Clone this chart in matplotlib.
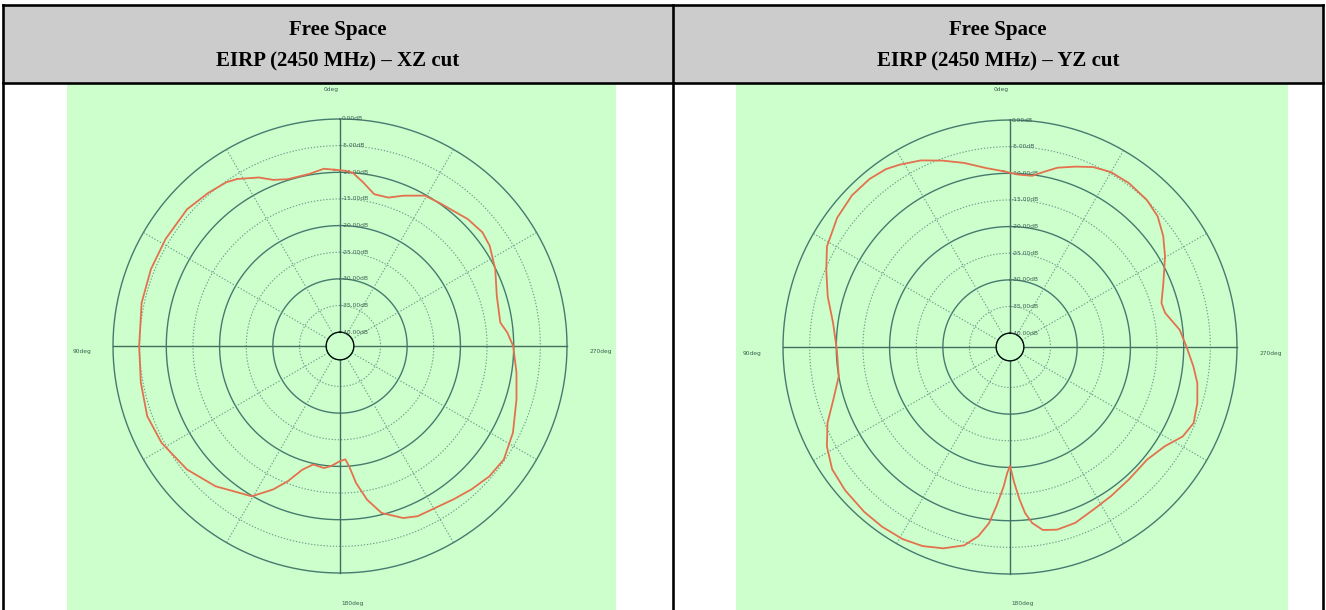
import numpy as np
import matplotlib
matplotlib.use("Agg")
import matplotlib.pyplot as plt
from matplotlib.patches import Rectangle
from matplotlib.transforms import offset_copy

# ---------------- data ----------------
title_line1 = ["Free Space", "Free Space"]
title_line2 = ["EIRP (2450 MHz) \u2013 XZ cut", "EIRP (2450 MHz) \u2013 YZ cut"]

ring_db = [0, -5, -10, -15, -20, -25, -30, -35, -40]
ring_labels = ["0.00dB", "-5.00dB", "-10.00dB", "-15.00dB", "-20.00dB",
               "-25.00dB", "-30.00dB", "-35.00dB", "-40.00dB"]
spoke_deg = [0, 30, 60, 90, 120, 150, 180, 210, 240, 270, 300, 330]
angle_labels = ["0deg", "90deg", "180deg", "270deg"]

xz_theta = [1.8, 5.2, 10.1, 17.4, 21.9, 25.7, 31.6, 34.7, 40.6, 48.2, 58.5, 67.9,
            77.7, 90.0, 100.4, 110.0, 118.5, 128.9, 138.4, 149.6, 155.0, 158.9,
            163.0, 167.2, 172.5, 175.7, 180.0, 182.7, 184.3, 186.7, 190.0, 194.0,
            200.2, 204.5, 209.3, 216.5, 222.5, 228.9, 235.3, 243.4, 253.2, 261.4,
            270.0, 274.6, 278.3, 287.8, 296.3, 303.8, 308.6, 314.8, 320.0, 325.3,
            330.6, 337.2, 341.9, 347.3, 351.9, 355.8, 358.2, 361.8]
xz_db = [-9.5, -9.2, -9.8, -9.8, -9.0, -7.5, -5.8, -5.2, -4.7, -4.1, -4.2, -4.3,
         -4.5, -4.9, -4.6, -4.1, -4.5, -5.7, -7.4, -9.9, -12.9, -15.4,
         -18.3, -19.8, -19.5, -20.0, -21.0, -21.3, -20.0, -16.7, -13.3, -10.3,
         -8.2, -7.5, -7.4, -6.8, -6.1, -5.4, -5.2, -6.3, -8.0, -9.1,
         -10.1, -11.1, -12.2, -11.7, -10.1, -8.8, -8.4, -8.8, -9.5, -9.9,
         -10.2, -12.0, -13.3, -13.4, -11.6, -10.0, -9.7, -9.5]

yz_theta = [2.1, 7.7, 14.0, 19.9, 25.5, 31.2, 34.9, 39.9, 46.2, 53.2, 61.2, 67.2,
            74.5, 82.3, 90.9, 99.7, 106.6, 112.6, 118.5, 124.5, 131.0, 138.5,
            144.6, 150.8, 156.3, 161.7, 167.0, 170.5, 173.2, 175.1, 177.4, 178.7,
            180.0, 181.8, 183.6, 185.2, 187.2, 190.2, 194.5, 200.4, 207.1, 214.1,
            221.9, 230.6, 237.3, 242.6, 247.5, 253.3, 259.1, 264.0, 270.2, 275.8,
            282.4, 286.2, 292.7, 300.3, 305.9, 311.5, 317.1, 324.0, 330.0, 335.2,
            340.1, 345.2, 349.3, 352.6, 357.4, 362.1]
yz_db = [-9.6, -8.7, -7.0, -5.4, -3.8, -2.6, -1.9, -1.5, -1.5, -2.1, -3.4, -5.2,
         -7.1, -9.1, -10.1, -10.0, -8.0, -5.5, -3.5, -2.1, -1.6, -1.3,
         -1.2, -1.3, -1.8, -2.8, -4.4, -6.6, -9.3, -12.6, -16.4, -18.9,
         -20.3, -17.1, -13.9, -11.3, -9.3, -7.7, -7.2, -7.4, -8.3, -8.8,
         -9.2, -9.3, -8.1, -6.1, -5.3, -5.9, -6.8, -8.0, -9.5, -10.6,
         -12.8, -13.0, -11.4, -8.9, -7.1, -5.6, -4.9, -4.6, -4.7, -5.4,
         -6.6, -7.8, -9.2, -10.2, -10.2, -9.6]

# ---------------- layout ----------------
W, H, DPI = 1326, 610, 100
fig = plt.figure(figsize=(W / DPI, H / DPI), dpi=DPI)
fig.patch.set_facecolor("white")

bg = fig.add_axes([0, 0, 1, 1])
bg.set_xlim(0, W)
bg.set_ylim(H, 0)
bg.axis("off")

GREEN = "#ccffcc"
GRAY = "#cccccc"
LINE_PX = 2.6
lw_pt = LINE_PX * 72 / DPI

top_y, head_y = 5, 83
left_x, mid_x, right_x = 3, 673, 1323

bg.add_patch(Rectangle((left_x, top_y), right_x - left_x, head_y - top_y,
                       fc=GRAY, ec="none", zorder=0))
panels = [(67, 616), (736, 1288)]
for x0, x1 in panels:
    bg.add_patch(Rectangle((x0, head_y), x1 - x0, H - head_y, fc=GREEN, ec="none", zorder=0))

for (xa, ya, xb, yb) in [(left_x, top_y, right_x, top_y), (left_x, head_y, right_x, head_y),
                         (left_x, top_y, left_x, H + 5), (right_x, top_y, right_x, H + 5),
                         (mid_x, top_y, mid_x, H + 5)]:
    bg.plot([xa, xb], [ya, yb], color="black", lw=lw_pt, solid_capstyle="projecting", zorder=5)

cell_centers = [(left_x + mid_x) / 2, (mid_x + right_x) / 2]
for i, cx in enumerate(cell_centers):
    bg.text(cx, 30, title_line1[i], ha="center", va="center", fontsize=15,
            fontweight="bold", family=["Liberation Serif", "DejaVu Serif"], zorder=6)
    bg.text(cx, 61, title_line2[i], ha="center", va="center", fontsize=15,
            fontweight="bold", family=["Liberation Serif", "DejaVu Serif"], zorder=6)

SOLID = "#467a6e"
DOT = "#6c9c8e"
AXIS = "#476c60"
LBL = "#3e5f52"
CURVE = "#e4714e"


def polar_panel(cx, cy, theta_deg, db):
    R = 227
    ax = fig.add_axes([(cx - R) / W, 1 - (cy + R) / H, 2 * R / W, 2 * R / H],
                      projection="polar")
    ax.set_facecolor("none")
    ax.set_theta_zero_location("N")
    ax.set_theta_direction(1)
    ax.set_ylim(-40, 0)
    ax.set_rorigin(-42.6)
    ax.grid(False)
    ax.set_xticks([])
    ax.set_yticks([])
    for sp in ax.spines.values():
        sp.set_visible(False)

    full = np.linspace(0, 2 * np.pi, 721)
    for v in ring_db:
        major = (v % 10 == 0)
        ax.plot(full, np.full_like(full, v),
                color=SOLID if major else DOT,
                lw=1.0 if major else 0.8,
                ls="-" if major else (0, (1.2, 1.6)),
                clip_on=False, zorder=2)
    for d in spoke_deg:
        t = np.deg2rad(d)
        main = (d % 90 == 0)
        ax.plot([t, t], [-40, 0], color=AXIS if main else DOT,
                lw=1.0 if main else 0.8,
                ls="-" if main else (0, (1.2, 1.6)),
                clip_on=False, zorder=2)

    tr = offset_copy(ax.transData, fig=fig, x=1.5, y=0, units="dots")
    for v, lab in zip(ring_db, ring_labels):
        ax.text(0, v, lab, transform=tr, ha="left", va="center",
                fontsize=4.3, color=LBL, zorder=3)

    ax.plot(np.deg2rad(theta_deg), db, color=CURVE, lw=1.3, zorder=4, clip_on=False,
            solid_joinstyle="round")

    # angle labels (pixel offsets from centre)
    bg.text(cx - 9, cy - 257, angle_labels[0], ha="center", va="center", fontsize=4.2, color=LBL)
    bg.text(cx - 258, cy + 6, angle_labels[1], ha="center", va="center", fontsize=4.2, color=LBL)
    bg.text(cx + 13, cy + 257, angle_labels[2], ha="center", va="center", fontsize=4.2, color=LBL)
    bg.text(cx + 261, cy + 6, angle_labels[3], ha="center", va="center", fontsize=4.2, color=LBL)
    return ax


polar_panel(340, 346, xz_theta, xz_db)
polar_panel(1010, 347, yz_theta, yz_db)

fig.savefig("out.png", dpi=DPI, facecolor="white")
